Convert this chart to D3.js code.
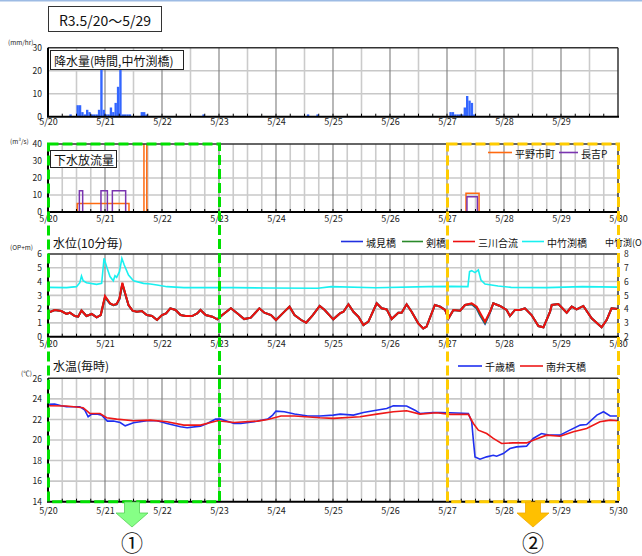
<!DOCTYPE html>
<html><head><meta charset="utf-8">
<script src="https://cdn.jsdelivr.net/npm/d3@7"></script>
<style>
body{margin:0;background:#fff}
svg{display:block}
text{font-family:"Noto Sans CJK JP","Noto Sans",sans-serif}
</style>
</head><body>
<svg id="chart" width="642" height="556"></svg>
<script>
// ---- data (time axis in hours from 5/20 0:00) ----
const dayLabels = ["5/20","5/21","5/22","5/23","5/24","5/25","5/26","5/27","5/28","5/29","5/30"];

// hourly rainfall, 中竹渕橋 (mm/hr)
const rainHours = [9,12,13,14,15,16,17,18,19,20,21,22,23,24,25,26,27,28,29,30,31,32,33,34,39,40,41,65,109,113,169,170,171,172,173,174,175,176,177,178,179];
const rainMm    = [1,5,5,2,1,3,2,1,1,1,3,28,3,1,1,4,2,6,13,27,1,1,1,1,2,2,1,1,1,1,2,2,1,1,1,1,4,9,7,6,1];

// sewer discharge pulses (m3/s)
const hiranoStart = [12.3, 40.4, 176.0];
const hiranoEnd   = [34.1, 41.6, 181.5];
const hiranoFlow  = [5, 45, 11];
const nagayoshiStart = [13.2, 22.3, 27.1, 176.4];
const nagayoshiEnd   = [14.6, 25.0, 32.7, 180.8];
const nagayoshiFlow  = [12.5, 12.5, 12.5, 9];

// water level, 10-min series (OP+m)
const levelHours = [0,2.8,5.6,7.8,9.2,11.3,12.7,14.1,16.2,18.4,20.5,22.2,24,26.1,27.5,28.9,30.1,31.3,32.5,33.9,35.6,37.4,39.5,41.6,43.8,45.9,48,49.7,51.5,53.7,55.8,57.9,60.7,62.8,64.2,66.4,69.2,71.3,73.4,77,79.8,82.6,85.4,89,91.1,93.9,96,98.8,101.7,103.8,106.6,108.7,111.5,114.4,116.5,120.1,122.9,124.4,126.5,128.6,130.7,132.8,134.9,138.4,140.5,142.6,144.7,147.5,148.9,151,153.1,155.9,158,159.4,162.9,165.1,167.2,168.6,170.7,173.5,175.6,178.4,180.5,181.9,184,186.1,187.5,190.3,193.1,194.5,196.6,198.7,200.8,203.6,206.5,208.6,211.4,212.1,214.9,218.4,220.5,222.6,225.4,228.9,233.1,235.2,237.3,240];
const shiromiLevel = [1.74,1.94,1.86,1.65,1.74,1.5,1.45,1.9,1.5,1.65,1.4,1.57,2.85,2.4,2.28,2.35,2.74,3.8,3.1,2.28,1.89,1.81,1.86,1.57,1.5,1.21,1.57,1.69,2.06,1.94,1.57,1.5,1.5,1.69,1.94,1.57,1.45,1.26,1.57,2.06,1.69,1.28,1.38,2.06,1.74,1.57,1.21,1.69,2.18,1.57,1.21,1.02,1.57,2.23,1.94,1.26,1.69,1.81,2.35,1.81,1.45,0.85,1.09,2.42,2.06,1.98,1.28,1.74,1.74,2.35,1.81,0.97,0.6,0.73,2.3,2.18,1.94,1.33,1.94,1.89,2.3,2.35,2.05,1.55,0.95,1.75,2.42,2.23,1.94,1.5,1.94,1.94,2.06,1.57,0.77,0.68,1.81,2.3,2.37,1.74,2.18,1.98,2.23,1.33,0.68,1.21,2.06,2.0];
const tsurugiLevel = [1.74,1.94,1.86,1.65,1.74,1.5,1.45,1.9,1.5,1.65,1.4,1.57,2.88,2.41,2.29,2.36,2.76,3.85,3.12,2.29,1.89,1.81,1.86,1.57,1.5,1.21,1.57,1.69,2.06,1.94,1.57,1.5,1.5,1.69,1.94,1.57,1.45,1.26,1.57,2.06,1.69,1.28,1.38,2.06,1.74,1.57,1.21,1.69,2.18,1.57,1.21,1.02,1.57,2.23,1.94,1.26,1.69,1.81,2.35,1.81,1.45,0.85,1.09,2.42,2.06,1.98,1.28,1.74,1.74,2.35,1.81,0.97,0.6,0.73,2.3,2.18,1.94,1.33,1.94,1.89,2.3,2.38,2.1,1.6,1.0,1.78,2.42,2.23,1.94,1.5,1.94,1.94,2.06,1.57,0.77,0.68,1.81,2.3,2.37,1.74,2.18,1.98,2.23,1.33,0.68,1.21,2.06,2.0];
const mikawaLevel  = [1.74,1.94,1.86,1.65,1.74,1.5,1.45,1.9,1.5,1.65,1.4,1.57,2.95,2.42,2.3,2.37,2.78,3.92,3.15,2.3,1.89,1.81,1.86,1.57,1.5,1.21,1.57,1.69,2.06,1.94,1.57,1.5,1.5,1.69,1.94,1.57,1.45,1.26,1.57,2.06,1.69,1.28,1.38,2.06,1.74,1.57,1.21,1.69,2.18,1.57,1.21,1.02,1.57,2.23,1.94,1.26,1.69,1.81,2.35,1.81,1.45,0.85,1.09,2.42,2.06,1.98,1.28,1.74,1.74,2.35,1.81,0.97,0.6,0.73,2.3,2.18,1.94,1.33,1.94,1.89,2.3,2.42,2.18,1.74,1.09,1.81,2.42,2.23,1.94,1.5,1.94,1.94,2.06,1.57,0.77,0.68,1.81,2.3,2.37,1.74,2.18,1.98,2.23,1.33,0.68,1.21,2.06,2.0];
// 中竹渕橋 level, right axis (OP+m)
const nakatakeHours = [0,7.8,12,13.4,14.1,14.8,16.2,20.5,22.6,23.6,24.7,26.1,27.5,28.2,28.9,30.1,31.1,32.1,33.9,36,40.2,43.1,45.9,50.1,57.2,78.4,92.5,113.6,119.3,138,160,170,176.8,177.5,178.4,179.8,181.2,182.3,184,189.5,195,210,225,240];
const nakatakeLevel = [5.58,5.56,5.63,5.92,6.4,6.06,5.92,5.8,5.87,7.69,7.08,6.36,6.06,6.43,6.31,6.72,7.69,7.2,6.48,6.06,5.87,5.82,5.75,5.63,5.56,5.56,5.53,5.51,5.63,5.55,5.63,5.65,5.63,6.72,6.79,6.65,6.84,6.11,5.82,5.68,5.58,5.56,5.63,5.6];

// hourly water temperature (°C)
const chitoseHours = [0,2.8,5.6,7.8,13.4,15.5,16.9,18.4,20.5,22.6,25,27.5,30.4,32.5,36,41.6,45.9,50.1,55.8,58.6,64.2,67,70.6,72.7,78.4,81.2,86.8,92.5,94.6,96,99.5,103.8,109.4,114.5,120.1,123,128.6,132.8,137,142.6,145.4,151,154.5,156.6,162.2,165.1,169.3,177,178.4,179.1,179.8,181.9,184.7,187.5,188.9,191.7,194.5,197.3,201.5,204.3,207.8,211.4,215.6,219.1,224.1,226.8,231.1,233.9,236.7,240];
const chitoseTemp  = [23.46,23.5,23.33,23.24,23.24,22.9,22.26,22.52,22.52,22.42,21.84,21.84,21.7,21.38,21.67,21.87,21.87,21.6,21.28,21.19,21.35,21.6,22.03,22.03,21.6,21.6,21.77,22.03,22.42,22.81,22.75,22.52,22.33,22.33,22.42,22.52,22.42,22.68,22.85,23.07,23.33,23.3,22.9,22.58,22.68,22.68,22.65,22.58,21.77,19.98,18.36,18.13,18.36,18.52,18.42,18.68,19.17,19.33,19.4,20.15,20.63,20.47,20.47,20.89,21.45,21.51,22.42,22.75,22.33,22.33];
const nanbentenHours = [0,7.8,14.8,17.6,21.9,24.7,28.9,36,43.1,50.1,57.2,64.2,71.3,78.4,88.2,92.5,98.1,103.8,114.5,120.1,131.4,138.4,145.4,151,156.6,163.6,169.3,177,179.1,181.2,184.7,187.5,191,195.9,201.5,204.3,209.9,215.6,221.2,226.8,232.4,236.7,240];
const nanbentenTemp  = [23.33,23.3,23.14,22.58,22.58,22.16,22.03,21.87,21.93,21.77,21.45,21.45,21.87,21.7,21.84,22,22.33,22.33,22.16,22.1,22.26,22.52,22.75,22.85,22.52,22.65,22.49,22.49,21.61,20.96,20.63,20.15,19.66,19.72,19.72,19.98,20.47,20.37,20.8,21.12,21.77,21.93,21.87];

// axis ticks
const rainTicks = [0,10,20,30];
const flowTicks = [0,10,20,30,40];
const levelTicks = [0,1,2,3,4,5,6];
const levelRightTicks = [2,3,4,5,6,7,8];
const tempTicks = [14,16,18,20,22,24,26];

// ---- drawing ----
const svg = d3.select("#chart");
const X0 = 48, X1 = 618;
const x = d3.scaleLinear().domain([0, 240]).range([X0, X1]);
const FONT = '"Noto Sans CJK JP","Noto Sans",sans-serif';
const intFmt = d3.format("d");

// thin band along the top of the page
svg.append("rect").attr("x", 0).attr("y", 0).attr("width", 642).attr("height", 1.5).attr("fill", "#9dbbe4");

// title box
svg.append("rect").attr("x", 48.5).attr("y", 6.5).attr("width", 113).attr("height", 25)
  .attr("fill", "#fff").attr("stroke", "#333").attr("stroke-width", 1);
svg.append("text").attr("x", 105).attr("y", 19.5).attr("text-anchor", "middle")
  .attr("dominant-baseline", "central").attr("font-size", 14).attr("fill", "#111").text("R3.5/20～5/29");

let clipN = 0;
function makePanel(top, bottom, domain, yTicks, vStep, xLabelCount, labelPad) {
  const y = d3.scaleLinear().domain(domain).range([bottom, top]);
  const id = "clip" + (clipN++);
  svg.append("clipPath").attr("id", id).append("rect")
    .attr("x", X0).attr("y", top).attr("width", X1 - X0).attr("height", bottom - top);
  const g = svg.append("g");
  // horizontal grid
  g.append("g").selectAll("line").data(yTicks.slice(1, -1)).join("line")
    .attr("x1", X0).attr("x2", X1).attr("y1", d => y(d)).attr("y2", d => y(d))
    .attr("stroke", "#c8c8c8").attr("stroke-width", 1.6);
  // vertical grid
  g.append("g").selectAll("line").data(d3.range(vStep, 240, vStep)).join("line")
    .attr("x1", d => x(d)).attr("x2", d => x(d)).attr("y1", top).attr("y2", bottom)
    .attr("stroke", d => d % 24 === 0 ? "#7d7d7d" : "#cbcbcb")
    .attr("stroke-width", d => d % 24 === 0 ? 1.1 : 1.6);
  const data = svg.append("g").attr("clip-path", `url(#${id})`);
  // left axis labels
  const ya = svg.append("g").attr("transform", `translate(${X0},0)`)
    .call(d3.axisLeft(y).tickValues(yTicks).tickFormat(intFmt).tickSize(0).tickPadding(6));
  ya.select(".domain").remove();
  ya.selectAll("text").attr("font-family", FONT).attr("font-size", 8.5).attr("fill", "#222");
  // x labels
  const xa = svg.append("g").attr("transform", `translate(0,${bottom})`)
    .call(d3.axisBottom(x).tickValues(d3.range(0, xLabelCount * 24, 24))
      .tickFormat(d => dayLabels[d / 24]).tickSize(0).tickPadding(labelPad));
  xa.select(".domain").remove();
  xa.selectAll("text").attr("font-family", FONT).attr("font-size", 9).attr("fill", "#222");
  return { y, data, top, bottom };
}

function frame(p, minorStep) {
  const f = svg.append("g");
  f.append("line").attr("x1", X0).attr("x2", X1).attr("y1", p.top).attr("y2", p.top).attr("stroke", "#333").attr("stroke-width", 1.5);
  f.append("line").attr("x1", X1).attr("x2", X1).attr("y1", p.top).attr("y2", p.bottom).attr("stroke", "#333").attr("stroke-width", 1.5);
  f.append("line").attr("x1", X0 - 1).attr("x2", X1 + 1).attr("y1", p.bottom).attr("y2", p.bottom).attr("stroke", "#000").attr("stroke-width", 2);
  f.append("line").attr("x1", X0).attr("x2", X0).attr("y1", p.top).attr("y2", p.bottom).attr("stroke", "#000").attr("stroke-width", 2);
  // small inner ticks on the time axis
  f.append("g").selectAll("line").data(d3.range(minorStep, 240, minorStep)).join("line")
    .attr("x1", d => x(d)).attr("x2", d => x(d)).attr("y1", p.bottom).attr("y2", p.bottom - 3)
    .attr("stroke", "#000").attr("stroke-width", 1);
}

function unitLabel(txt, xx, yy) {
  svg.append("text").attr("x", xx).attr("y", yy).attr("font-size", 6.5).attr("fill", "#222")
    .attr("dominant-baseline", "central").text(txt);
}

function boxLabel(txt, x0, y0, w, h) {
  svg.append("rect").attr("x", x0 + 0.5).attr("y", y0 + 0.5).attr("width", w).attr("height", h)
    .attr("fill", "#fff").attr("stroke", "#222").attr("stroke-width", 1);
  svg.append("text").attr("x", x0 + 4).attr("y", y0 + h / 2 + 1).attr("dominant-baseline", "central")
    .attr("font-size", 12).attr("fill", "#111").text(txt);
}

function legendItem(color, lx, ly, len, txt, fs) {
  svg.append("line").attr("x1", lx).attr("x2", lx + len).attr("y1", ly).attr("y2", ly)
    .attr("stroke", color).attr("stroke-width", 1.6);
  svg.append("text").attr("x", lx + len + 3).attr("y", ly + 0.5).attr("dominant-baseline", "central")
    .attr("font-size", fs).attr("fill", "#111").text(txt);
}

// ===== Panel 1: rainfall =====
const pRain = makePanel(47.7, 116.7, [0, 30], rainTicks, 12, 10, 2);
pRain.data.selectAll("rect").data(rainHours).join("rect")
  .attr("x", d => x(d)).attr("width", x(1) - x(0))
  .attr("y", (d, i) => pRain.y(rainMm[i])).attr("height", (d, i) => pRain.y(0) - pRain.y(rainMm[i]))
  .attr("fill", "#3366ff");
frame(pRain, 6);
unitLabel("(mm/hr)", 8, 42);
boxLabel("降水量(時間,中竹渕橋)", 50, 50, 133, 19);

// ===== Panel 2: sewer discharge =====
const pFlow = makePanel(144, 212, [0, 40], flowTicks, 6, 11, 4);
function pulsePoints(starts, ends, vals) {
  const pts = [[0, 0]];
  starts.forEach((s, i) => { pts.push([s, 0], [s, vals[i]], [ends[i], vals[i]], [ends[i], 0]); });
  pts.push([240, 0]);
  return pts;
}
const stepLine = d3.line().x(d => x(d[0])).y(d => pFlow.y(d[1]));
pFlow.data.append("path").attr("d", stepLine(pulsePoints(hiranoStart, hiranoEnd, hiranoFlow)))
  .attr("fill", "none").attr("stroke", "#ff6a10").attr("stroke-width", 1.5);
pFlow.data.append("path").attr("d", stepLine(pulsePoints(nagayoshiStart, nagayoshiEnd, nagayoshiFlow)))
  .attr("fill", "none").attr("stroke", "#7a35b0").attr("stroke-width", 1.5);
frame(pFlow, 6);
unitLabel("(m³/s)", 10, 141);
boxLabel("下水放流量", 50, 150, 66, 17);
legendItem("#ff6a10", 488, 152.5, 24, "平野市町", 10);
legendItem("#7a35b0", 559, 152.5, 19, "長吉P", 10);

// ===== Panel 3: water level =====
const pLevel = makePanel(254, 336.7, [0, 6], levelTicks, 6, 11, 4);
const yRight = d3.scaleLinear().domain([2, 8]).range([336.7, 254]);
const lineL = (hrs) => d3.line().x((d, i) => x(hrs[i])).y(d => pLevel.y(d));
pLevel.data.append("path").attr("d", d3.line().x((d, i) => x(nakatakeHours[i])).y(d => yRight(d))(nakatakeLevel))
  .attr("fill", "none").attr("stroke", "#19f0f0").attr("stroke-width", 1.6);
pLevel.data.append("path").attr("d", lineL(levelHours)(shiromiLevel))
  .attr("fill", "none").attr("stroke", "#2030e0").attr("stroke-width", 2);
pLevel.data.append("path").attr("d", lineL(levelHours)(tsurugiLevel))
  .attr("fill", "none").attr("stroke", "#2a8a2a").attr("stroke-width", 2);
pLevel.data.append("path").attr("d", lineL(levelHours)(mikawaLevel))
  .attr("fill", "none").attr("stroke", "#ee1010").attr("stroke-width", 2);
frame(pLevel, 6);
const ra = svg.append("g").attr("transform", `translate(${X1},0)`)
  .call(d3.axisRight(yRight).tickValues(levelRightTicks).tickFormat(intFmt).tickSize(0).tickPadding(6));
ra.select(".domain").remove();
ra.selectAll("text").attr("font-family", FONT).attr("font-size", 8.5).attr("fill", "#222");
unitLabel("(OP+m)", 10, 247);
svg.append("text").attr("x", 53).attr("y", 242).attr("dominant-baseline", "central")
  .attr("font-size", 12).attr("fill", "#111").text("水位(10分毎)");
legendItem("#2030e0", 341, 241.5, 22, "城見橋", 10);
legendItem("#2a8a2a", 402, 241.5, 21, "剣橋", 10);
legendItem("#ee1010", 453, 241.5, 22, "三川合流", 10);
legendItem("#19f0f0", 522, 241.5, 22, "中竹渕橋", 10);
svg.append("text").attr("x", 605).attr("y", 242.5).attr("dominant-baseline", "central")
  .attr("font-size", 9).attr("fill", "#111").text("中竹渕(OP+m)");

// ===== Panel 4: water temperature =====
const pTemp = makePanel(378.3, 501.7, [14, 26], tempTicks, 6, 11, 6);
const lineT = (hrs) => d3.line().x((d, i) => x(hrs[i])).y(d => pTemp.y(d));
pTemp.data.append("path").attr("d", lineT(chitoseHours)(chitoseTemp))
  .attr("fill", "none").attr("stroke", "#1f2ff0").attr("stroke-width", 1.6);
pTemp.data.append("path").attr("d", lineT(nanbentenHours)(nanbentenTemp))
  .attr("fill", "none").attr("stroke", "#ee1818").attr("stroke-width", 1.6);
frame(pTemp, 6);
unitLabel("(℃)", 21, 373);
svg.append("text").attr("x", 53).attr("y", 365).attr("dominant-baseline", "central")
  .attr("font-size", 12).attr("fill", "#111").text("水温(毎時)");
legendItem("#1f2ff0", 458, 366, 24, "千歳橋", 10);
legendItem("#ee1818", 520, 366, 23, "南弁天橋", 10);

// ===== highlighted periods =====
function periodBox(h0, h1, color) {
  svg.append("rect").attr("x", x(h0) + 0.5).attr("y", 144).attr("width", x(h1) - x(h0))
    .attr("height", 501.7 - 144).attr("fill", "none").attr("stroke", color)
    .attr("stroke-width", 3).attr("stroke-dasharray", "10,4");
}
periodBox(0, 72, "#00e000");
periodBox(168, 240, "#ffcc00");

function arrow(cx, fill, stroke, label) {
  const pts = [[cx - 7.5, 502], [cx + 7.5, 502], [cx + 7.5, 513], [cx + 16, 513], [cx, 527], [cx - 16, 513], [cx - 7.5, 513]];
  svg.append("polygon").attr("points", pts.map(p => p.join(",")).join(" "))
    .attr("fill", fill).attr("stroke", stroke).attr("stroke-width", 0.8);
  svg.append("text").attr("x", cx).attr("y", 541).attr("text-anchor", "middle")
    .attr("dominant-baseline", "central").attr("font-size", 22).attr("fill", "#111").text(label);
}
arrow(132, "#86ff86", "#55d055", "①");
arrow(533, "#ffc000", "#f0a800", "②");
</script>
</body></html>
